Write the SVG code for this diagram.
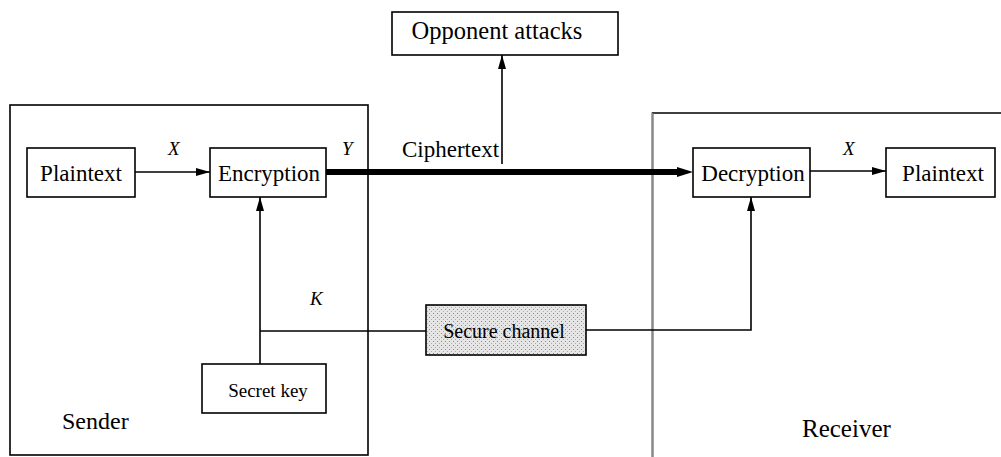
<svg xmlns="http://www.w3.org/2000/svg" width="1001" height="457" viewBox="0 0 1001 457">
<defs>
<marker id="arr" markerUnits="userSpaceOnUse" markerWidth="15" markerHeight="9" refX="14" refY="4.5" orient="auto">
<path d="M0,0.5 L14,4.5 L0,8.5 z" fill="#000"/>
</marker>
<pattern id="dots" width="4" height="4" patternUnits="userSpaceOnUse">
<rect width="4" height="4" fill="#e6e6e6"/>
<rect x="1" y="1" width="1" height="1" fill="#888"/>
<rect x="3" y="3" width="1" height="1" fill="#aaa"/>
</pattern>
<style>
.box{fill:#fff;stroke:#000;stroke-width:1.6}
.t{font-family:"Liberation Serif","Times New Roman",serif;fill:#000}
.lbl{font-size:23px}
.var{font-size:19px;font-style:italic}
.ln{fill:none;stroke:#000;stroke-width:1.6}
</style>
</defs>
<rect width="1001" height="457" fill="#fff"/>

<g id="sender">
<rect x="10" y="105" width="358" height="350" fill="none" stroke="#000" stroke-width="1.6"/>
<text class="t" x="62" y="429" font-size="24">Sender</text>
</g>
<g id="receiver">
<path d="M1001,113 H652.5 V457" fill="none" stroke="#000" stroke-width="1.6"/>
<path d="M652.5,113 V457" fill="none" stroke="#888" stroke-width="1.6"/>
<text class="t" x="802" y="437" font-size="25">Receiver</text>
</g>

<g id="connectors">
<line class="ln" x1="135" y1="172" x2="210" y2="172" marker-end="url(#arr)"/>
<line x1="326" y1="172" x2="681" y2="172" stroke="#000" stroke-width="6"/>
<path d="M677,167 L693,172 L677,177 z" fill="#000"/>
<line class="ln" x1="502" y1="164" x2="502" y2="55" marker-end="url(#arr)"/>
<line class="ln" x1="810" y1="171" x2="886" y2="171" marker-end="url(#arr)"/>
<line class="ln" x1="260" y1="364" x2="260" y2="197" marker-end="url(#arr)"/>
<line class="ln" x1="260" y1="331" x2="426" y2="331"/>
<path class="ln" d="M586,330 H751 V197" marker-end="url(#arr)"/>
<text class="t var" x="168" y="155">X</text>
<text class="t var" x="342" y="155">Y</text>
<text class="t var" x="310" y="305">K</text>
<text class="t var" x="843" y="155">X</text>
<text class="t" x="402" y="157" font-size="23">Ciphertext</text>
</g>

<g id="plaintext-in">
<rect class="box" x="27" y="148" width="108" height="49"/>
<text class="t lbl" x="81" y="180.5" text-anchor="middle">Plaintext</text>
</g>
<g id="encryption">
<rect class="box" x="210" y="148" width="116" height="49"/>
<text class="t lbl" x="269" y="180.5" text-anchor="middle">Encryption</text>
</g>
<g id="secret-key">
<rect class="box" x="202" y="364" width="124" height="49"/>
<text class="t" x="268" y="397" font-size="19" text-anchor="middle">Secret key</text>
</g>
<g id="opponent">
<rect class="box" x="392" y="12" width="226" height="43"/>
<text class="t" x="497" y="39" font-size="24.5" text-anchor="middle">Opponent attacks</text>
</g>
<g id="secure-channel">
<rect x="426" y="305" width="160" height="50" fill="url(#dots)" stroke="#000" stroke-width="1.6"/>
<text class="t" x="504" y="338" font-size="20" text-anchor="middle">Secure channel</text>
</g>
<g id="decryption">
<rect class="box" x="693" y="148" width="117" height="49"/>
<text class="t lbl" x="753" y="180.5" text-anchor="middle">Decryption</text>
</g>
<g id="plaintext-out">
<rect class="box" x="886" y="148" width="109" height="49"/>
<text class="t lbl" x="943" y="180.5" text-anchor="middle">Plaintext</text>
</g>
</svg>
